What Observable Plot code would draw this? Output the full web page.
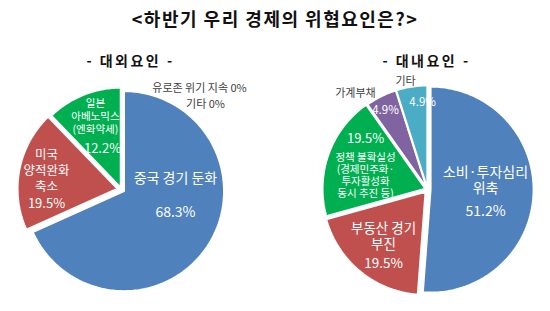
<!DOCTYPE html>
<html><head><meta charset="utf-8">
<script src="https://cdn.jsdelivr.net/npm/d3@7"></script>
<script src="https://cdn.jsdelivr.net/npm/@observablehq/plot@0.6"></script>
<style>
html,body{margin:0;padding:0;background:#fff}
body{width:550px;height:311px;overflow:hidden;font-family:"Noto Sans CJK KR",sans-serif}
#title{height:34px;line-height:36px;text-align:center;font-weight:bold;font-size:18px;letter-spacing:1.5px;color:#111}
#row{display:flex;width:550px}
</style></head><body>
<div id="title">&lt;하반기 우리 경제의 위협요인은?&gt;</div>
<div id="row"></div>
<script>
// ---- data ----
const extTitle = "- 대외요인 -";
const extCategories = ["중국 경기 둔화", "미국 양적완화 축소", "일본 아베노믹스(엔화약세)", "유로존 위기 지속", "기타"];
const extLabelLines = [["중국 경기 둔화"], ["미국", "양적완화", "축소"], ["일본", "아베노믹스", "(엔화약세)"], ["유로존 위기 지속"], ["기타"]];
const extValues = [68.3, 19.5, 12.2, 0, 0];

const intTitle = "- 대내요인 -";
const intCategories = ["소비·투자심리 위축", "부동산 경기 부진", "정책 불확실성", "가계부채", "기타"];
const intLabelLines = [["소비·투자심리", "위축"], ["부동산 경기", "부진"], ["정책 불확실성", "(경제민주화·", "투자활성화", "동시 추진 등)"], ["가계부채"], ["기타"]];
const intValues = [51.2, 19.5, 19.5, 4.9, 4.9];

// ---- styles / layout ----
const sliceColors = ["#4F81BD", "#C0504D", "#00B050", "#8064A2", "#4BACC6"];
const W = 275, H = 277;

const extLayout = {
  cx: 121, cy: 155, r: 100, titleDx: -7.5, titleDy: 27,
  explode: [0.03, 0.04, 0.02, 0, 0],
  // [dxName, dyName, dxValue, dyValue, nameSize, nameLH, valueSize, nameFill, valueFill]
  labels: [
    [7.8, -41.9, 7.8, -6.9, 14, 1.2, 14, "#fff", "#fff"],
    [-21, -9.5, -21, 24.5, 12.5, 1.28, 13, "#fff", "#fff"],
    [-5.5, -22.5, 1.6, 10, 10.5, 1.2, 13, "#fff", "#fff"],
    [78, 8, 0, 0, 11, 1.2, 11, "#404040", "#404040"],
    [84, 24, 0, 0, 11, 1.2, 11, "#404040", "#404040"]
  ]
};
const intLayout = {
  cx: 152, cy: 155, r: 103, titleDx: 13.5, titleDy: 27,
  explode: [0.03, 0.03, 0.02, 0.01, 0.01],
  labels: [
    [1.4, -12.1, 1.4, 19.9, 14, 1.14, 14, "#fff", "#fff"],
    [-8, 2.2, -8, 30.2, 13.5, 1.19, 13.5, "#fff", "#fff"],
    [-8.6, 4.5, -8.6, -32, 10.5, 1.15, 13, "#fff", "#fff"],
    [-46.8, -46.3, -16.8, -28.3, 11, 1.2, 11.5, "#404040", "#fff"],
    [-13.2, -53, 3.8, -31, 11, 1.2, 11.5, "#404040", "#fff"]
  ]
};

function polar(deg, rad) { const t = deg * Math.PI / 180; return [rad * Math.sin(t), rad * Math.cos(t)]; }

function pie(title, categories, lines, values, L) {
  const total = d3.sum(values);
  let acc = 0;
  const sl = values.map((v, i) => { const a0 = acc / total * 360; acc += v; const a1 = acc / total * 360; return {i, v, a0, a1, mid: (a0 + a1) / 2, name: categories[i]}; });
  const pts = [];
  for (const s of sl) {
    if (s.v <= 0) continue;
    const [ox, oy] = polar(s.mid, L.explode[s.i]);
    pts.push({k: s.i, x: ox, y: oy, c: sliceColors[s.i]});
    const n = Math.max(2, Math.ceil(s.a1 - s.a0));
    for (let j = 0; j <= n; j++) {
      const [px, py] = polar(s.a0 + (s.a1 - s.a0) * j / n, 1);
      pts.push({k: s.i, x: ox + px, y: oy + py, c: sliceColors[s.i]});
    }
  }
  const marks = [
    Plot.line(pts, {x: "x", y: "y", z: "k", fill: "c", stroke: "white", strokeWidth: 2, strokeLinejoin: "miter", curve: "linear-closed"}),
    Plot.text([title], {text: d => d, frameAnchor: "top", dx: L.titleDx, dy: L.titleDy, lineAnchor: "middle", fontSize: 14, fontWeight: "bold", fill: "#111"})
  ];
  for (const s of sl) {
    const [dxN, dyN, dxV, dyV, nS, nLH, vS, nF, vF] = L.labels[s.i];
    const pct = s.v === 0 ? "0%" : s.v.toFixed(1) + "%";
    const a = polar(s.mid, s.v === 0 ? 1.1 : 0.55);
    const nameText = s.v === 0 ? lines[s.i].join(" ") + " " + pct : lines[s.i].join("\n");
    marks.push(Plot.text([a], {x: d => d[0], y: d => d[1], text: () => nameText, dx: dxN, dy: dyN, fontSize: nS, lineHeight: nLH, fill: nF, lineAnchor: "middle"}));
    if (s.v !== 0) marks.push(Plot.text([a], {x: d => d[0], y: d => d[1], text: () => pct, dx: dxV, dy: dyV, fontSize: vS, fill: vF, lineAnchor: "middle"}));
  }
  const p = Plot.plot({
    width: W, height: H, margin: 0,
    x: {domain: [-L.cx / L.r, (W - L.cx) / L.r], axis: null},
    y: {domain: [-(H - L.cy) / L.r, L.cy / L.r], axis: null},
    color: {type: "identity"},
    style: {fontFamily: "'Noto Sans CJK KR', sans-serif", background: "transparent", overflow: "visible"},
    marks
  });
  d3.select(p).selectAll("text").filter(function () { return this.textContent === title; }).style("letter-spacing", "2.5px");
  return p;
}

const row = document.getElementById("row");
row.append(pie(extTitle, extCategories, extLabelLines, extValues, extLayout));
row.append(pie(intTitle, intCategories, intLabelLines, intValues, intLayout));
</script>
</body></html>
